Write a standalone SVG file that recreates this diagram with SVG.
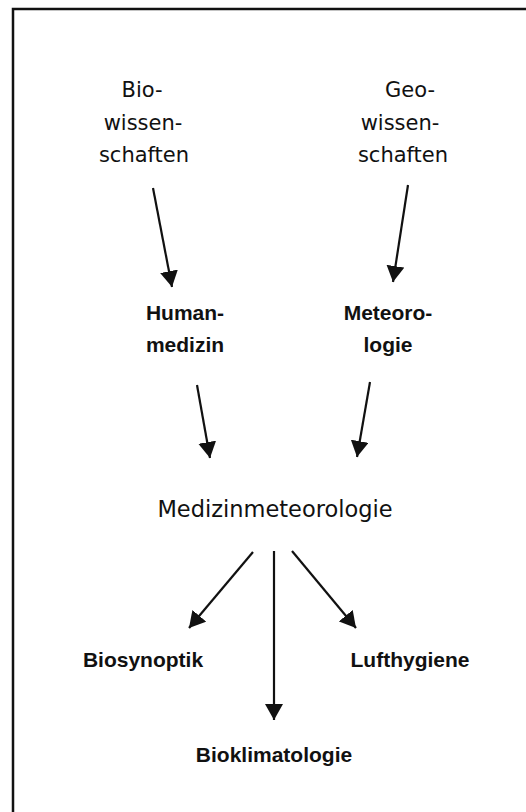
<svg xmlns="http://www.w3.org/2000/svg" width="526" height="812" viewBox="0 0 526 812">
<style>
.reg{font-family:"DejaVu Sans","Liberation Sans",sans-serif;font-size:21px;fill:#111;text-anchor:middle}
.big{font-family:"DejaVu Sans","Liberation Sans",sans-serif;font-size:22.5px;fill:#111;text-anchor:middle}
.bold{font-family:"Liberation Sans",Arial,sans-serif;font-size:21px;font-weight:bold;fill:#111;text-anchor:middle}
.conn{stroke:#111;stroke-width:2.2;fill:none;marker-end:url(#ah)}
</style>
<defs>
<marker id="ah" markerUnits="userSpaceOnUse" markerWidth="17" markerHeight="18" refX="16" refY="9" orient="auto">
<path d="M0,0 L16,9 L0,18 z" fill="#111"/>
</marker>
</defs>
<rect width="526" height="812" fill="#fff"/>
<polyline points="13,812 13,9 526,9" fill="none" stroke="#111" stroke-width="2.5"/>
<g id="bio">
<text class="reg" x="142" y="97">Bio-</text>
<text class="reg" x="143" y="130">wissen-</text>
<text class="reg" x="144" y="162">schaften</text>
</g>
<g id="geo">
<text class="reg" x="410" y="97">Geo-</text>
<text class="reg" x="400" y="130">wissen-</text>
<text class="reg" x="403" y="162">schaften</text>
</g>
<g id="humanmedizin">
<text class="bold" x="185" y="320">Human-</text>
<text class="bold" x="185" y="352">medizin</text>
</g>
<g id="meteorologie">
<text class="bold" x="388" y="320">Meteoro-</text>
<text class="bold" x="388" y="352">logie</text>
</g>
<g id="medizinmeteorologie">
<text class="big" x="275" y="517">Medizinmeteorologie</text>
</g>
<g id="biosynoptik">
<text class="bold" x="143" y="667">Biosynoptik</text>
</g>
<g id="lufthygiene">
<text class="bold" x="410" y="667">Lufthygiene</text>
</g>
<g id="bioklimatologie">
<text class="bold" x="274" y="762">Bioklimatologie</text>
</g>
<g id="connectors">
<line class="conn" x1="153" y1="188" x2="172" y2="287"/>
<line class="conn" x1="408" y1="185" x2="393" y2="282"/>
<line class="conn" x1="197" y1="385" x2="210" y2="458"/>
<line class="conn" x1="370" y1="382" x2="357" y2="457"/>
<line class="conn" x1="253" y1="552" x2="189" y2="628"/>
<line class="conn" x1="274" y1="551" x2="274" y2="720"/>
<line class="conn" x1="292" y1="551" x2="356" y2="628"/>
</g>
</svg>
